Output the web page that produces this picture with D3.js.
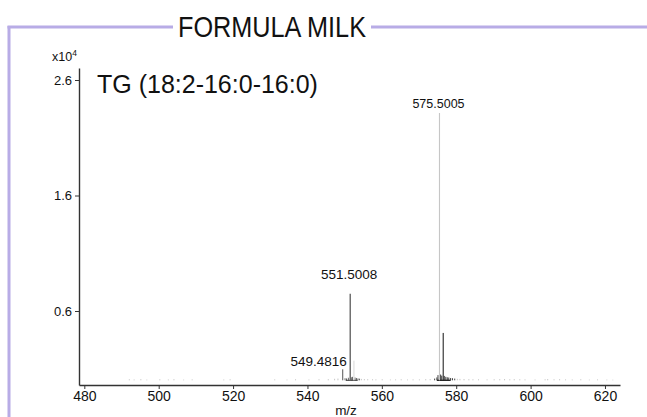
<!DOCTYPE html>
<html><head><meta charset="utf-8">
<script src="https://cdn.jsdelivr.net/npm/d3@7"></script>
<style>body{margin:0;background:#fff}svg{display:block}</style>
</head><body>
<script>
// ---- data ----
const title = "FORMULA MILK";
const compound = "TG (18:2-16:0-16:0)";
const xTicks = [480, 500, 520, 540, 560, 580, 600, 620];
const yTicks = [6000, 16000, 26000];
const yTickLabels = ["0.6", "1.6", "2.6"];
// main peaks (m/z, intensity)
const peakMz  = [549.4816, 551.5008, 552.50, 575.5005, 576.50];
const peakInt = [950, 7500, 1700, 23150, 4100];
const peakLabel = ["549.4816", "551.5008", "", "575.5005", ""];
// low-level noise (m/z, intensity)
const noiseMz  = [492.1,493.4,495.2,496.8,500.3,502.6,504.1,506.7,509.0,517.5,519.2,
  531.2,534.5,536.8,540.4,543.1,545.6,547.3,548.2,550.1,550.5,551.0,551.8,552.1,552.8,553.2,553.6,554.0,554.5,
  555.3,556.2,557.5,558.4,560.1,562.3,563.7,565.2,566.9,568.4,570.1,571.8,573.0,574.2,574.8,575.1,575.8,576.1,
  576.8,577.2,577.6,578.0,578.5,579.0,579.6,580.3,581.0,582.1,583.4,584.5,586.0,588.3,590.2,591.7,593.0,594.4,
  595.6,597.1,598.5,601.2,603.9,604.6,606.3,607.8,609.4,611.2,613.5,615.8,618.0,620.5,622.1];
const noiseInt = [90,70,100,60,90,70,100,60,80,70,90,
  80,60,90,70,90,100,130,150,180,160,220,260,300,240,200,160,140,120,
  110,100,90,80,90,70,80,90,70,80,80,100,110,150,250,450,500,400,
  380,300,260,240,200,180,150,130,120,110,100,90,90,80,90,100,110,90,
  100,90,80,70,90,110,90,100,80,70,90,60,80,60,50];

// ---- layout ----
const W = 647, H = 417;
const svg = d3.select("body").append("svg").attr("width", W).attr("height", H);

const x = d3.scaleLinear().domain([478.57, 624.04]).range([79, 620]);
const y = d3.scaleLinear().domain([-407, 27040]).range([385, 68]);
const font = "'Liberation Sans', Arial, sans-serif";

// frame
const frameColor = "#b8ace6";
svg.append("line").attr("x1", 9).attr("x2", 9).attr("y1", 26).attr("y2", H)
  .attr("stroke", frameColor).attr("stroke-width", 3);
svg.append("line").attr("x1", 7.5).attr("x2", 173).attr("y1", 27).attr("y2", 27)
  .attr("stroke", frameColor).attr("stroke-width", 3);
svg.append("line").attr("x1", 371).attr("x2", W).attr("y1", 27).attr("y2", 27)
  .attr("stroke", frameColor).attr("stroke-width", 3);
svg.append("text").attr("x", 272).attr("y", 37).attr("text-anchor", "middle")
  .attr("font-family", font).attr("font-size", 30).attr("fill", "#111")
  .attr("textLength", 188).attr("lengthAdjust", "spacingAndGlyphs").text(title);

// noise
const noiseColor = m => (m >= 574 && m <= 580) ? "#111" : (m >= 549.5 && m <= 554 ? "#444" : "#b8b8b8");
svg.append("g").selectAll("line").data(noiseMz).join("line")
  .attr("x1", d => x(d)).attr("x2", d => x(d))
  .attr("y1", y(0)).attr("y2", (d, i) => y(noiseInt[i]))
  .attr("stroke", d => noiseColor(d)).attr("stroke-width", 0.8);
// baseline noise strip
svg.append("line").attr("x1", x(574.8)).attr("x2", x(578.5)).attr("y1", y(0)).attr("y2", y(0))
  .attr("stroke", "#111").attr("stroke-width", 1.2);
svg.append("line").attr("x1", x(550.3)).attr("x2", x(553.5)).attr("y1", y(0)).attr("y2", y(0))
  .attr("stroke", "#333").attr("stroke-width", 1);

// peaks
const peakColor = ["#555", "#666", "#d8d8d8", "#c6c6c6", "#111"];
const peakWidth = [1, 1.4, 1, 1.1, 1];
svg.append("g").selectAll("line").data(peakMz).join("line")
  .attr("x1", d => x(d)).attr("x2", d => x(d))
  .attr("y1", y(0)).attr("y2", (d, i) => y(peakInt[i]))
  .attr("stroke", (d, i) => peakColor[i]).attr("stroke-width", (d, i) => peakWidth[i]);

// peak labels
const lbl = svg.append("g").attr("font-family", font).attr("fill", "#111");
peakMz.forEach((m, i) => {
  if (!peakLabel[i]) return;
  const small = peakInt[i] < 2000;
  const big = peakInt[i] > 20000;
  lbl.append("text")
    .attr("font-size", big ? 12.5 : 13.5)
    .attr("x", small ? x(m) + 4 : x(m) - 1)
    .attr("y", small ? y(peakInt[i]) - 3 : (big ? y(peakInt[i]) - 5 : y(peakInt[i]) - 15))
    .attr("text-anchor", small ? "end" : "middle")
    .text(peakLabel[i]);
});

// axes
const xAxis = svg.append("g").attr("transform", "translate(0,385)")
  .call(d3.axisBottom(x).tickValues(xTicks).tickSize(4).tickSizeOuter(0).tickPadding(2));
const yAxis = svg.append("g").attr("transform", "translate(79,0)")
  .call(d3.axisLeft(y).tickValues(yTicks).tickFormat((d, i) => yTickLabels[i]).tickSize(4).tickSizeOuter(0).tickPadding(3));
[xAxis, yAxis].forEach(a => {
  a.select(".domain").attr("stroke", "#333").attr("stroke-width", 1.4);
  a.selectAll(".tick line").attr("stroke", "#333");
  a.selectAll("text").attr("font-family", font).attr("fill", "#111");
});
xAxis.selectAll("text").attr("font-size", 14);
yAxis.selectAll("text").attr("font-size", 13);

// axis titles
svg.append("text").attr("x", 346).attr("y", 415).attr("text-anchor", "middle")
  .attr("font-family", font).attr("font-size", 13.5).attr("fill", "#111").text("m/z");
const mult = svg.append("text").attr("x", 52).attr("y", 61)
  .attr("font-family", font).attr("font-size", 12.5).attr("fill", "#111");
mult.append("tspan").text("x10");
mult.append("tspan").attr("font-size", 8.5).attr("dy", -5).text("4");

// compound name
svg.append("text").attr("x", 97).attr("y", 93)
  .attr("font-family", font).attr("font-size", 25).attr("fill", "#111").text(compound);
</script>
</body></html>
